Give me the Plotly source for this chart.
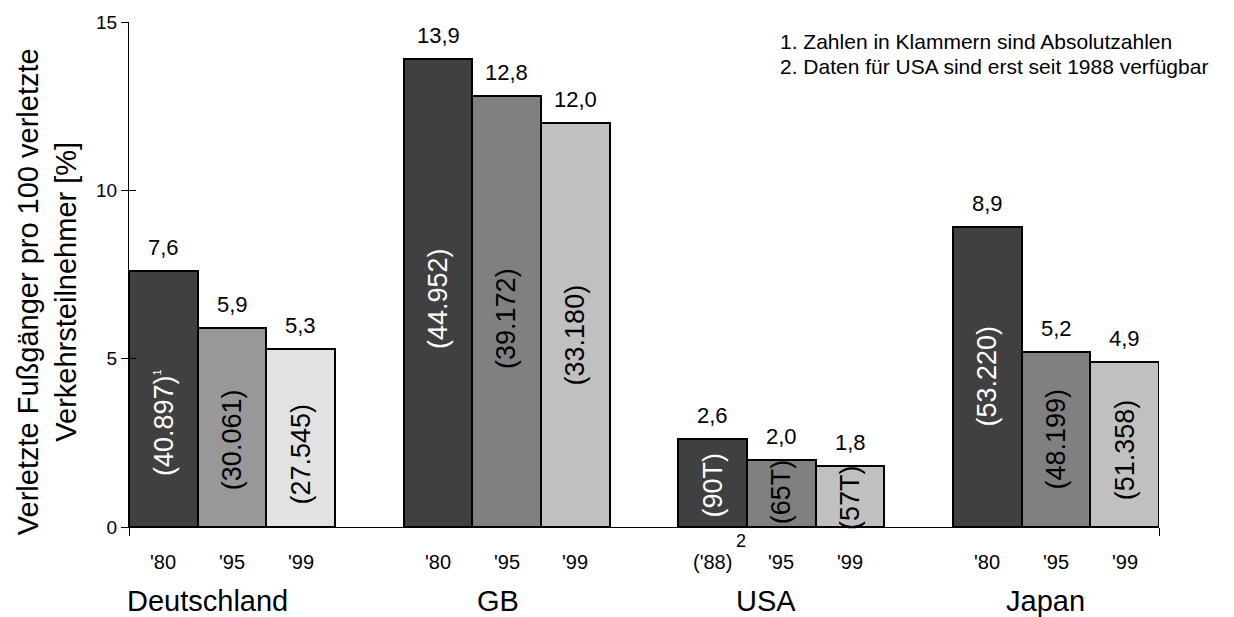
import plotly.graph_objects as go

# Data: injured pedestrians per 100 injured road users [%]
countries = ["Deutschland", "GB", "USA", "Japan"]
years = ["'80", "'95", "'99"]
year_labels = {
    "Deutschland": ["'80", "'95", "'99"],
    "GB": ["'80", "'95", "'99"],
    "USA": ["('88)", "'95", "'99"],
    "Japan": ["'80", "'95", "'99"],
}
share_de = [7.6, 5.9, 5.3]
share_gb = [13.9, 12.8, 12.0]
share_us = [2.6, 2.0, 1.8]
share_jp = [8.9, 5.2, 4.9]
absolute_de = ["(40.897)", "(30.061)", "(27.545)"]
absolute_gb = ["(44.952)", "(39.172)", "(33.180)"]
absolute_us = ["(90T)", "(65T)", "(57T)"]
absolute_jp = ["(53.220)", "(48.199)", "(51.358)"]
y_ticks = [0, 5, 10, 15]
footnotes = [
    "1. Zahlen in Klammern sind Absolutzahlen",
    "2. Daten für USA sind erst seit 1988 verfügbar",
]

shares = [share_de, share_gb, share_us, share_jp]
absolutes = [absolute_de, absolute_gb, absolute_us, absolute_jp]

# Styling / placement
FONT = "Liberation Sans, Arial, sans-serif"
W, H = 1234, 617
ML, MR, MT, MB = 129, 75, 22, 90
colors_de = ["#404040", "#989898", "#e2e2e2"]
colors_std = ["#404040", "#808080", "#c0c0c0"]
inner_text_color = ["white", "black", "black"]
# vertical centre (axis units) of the rotated absolute-count labels
inner_label_mid = [
    [3.1, 2.58, 2.17],
    [6.77, 6.2, 5.7],
    [1.25, 1.04, 0.86],
    [4.48, 2.6, 2.3],
]
# horizontal nudges of the country names (axis units)
country_nudge = [-0.35, -0.13, -0.23, -0.16]

xs, ys, cols = [], [], []
annotations = []
for g, country in enumerate(countries):
    palette = colors_de if country == "Deutschland" else colors_std
    for j in range(3):
        x = 4 * g + j + 0.5
        v = shares[g][j]
        xs.append(x)
        ys.append(v)
        cols.append(palette[j])
        # value label above the bar
        annotations.append(dict(
            x=x, y=v, xref="x", yref="y", text=f"{v:.1f}".replace(".", ","),
            showarrow=False, yanchor="bottom", yshift=9,
            font=dict(family=FONT, size=22, color="black")))
        # rotated absolute count inside the bar
        txt = absolutes[g][j]
        if g == 0 and j == 0:
            txt += "<sup><span style='font-size:11px'>1</span></sup>"
        annotations.append(dict(
            x=x, y=inner_label_mid[g][j], xref="x", yref="y", text=txt,
            textangle=-90, showarrow=False,
            font=dict(family=FONT, size=27, color=inner_text_color[j])))
        # year label under the bar
        annotations.append(dict(
            x=x, y=0, xref="x", yref="y", text=year_labels[country][j],
            showarrow=False, yanchor="middle", yshift=-35,
            font=dict(family=FONT, size=20, color="black")))
    # country name
    annotations.append(dict(
        x=4 * g + 1.5 + country_nudge[g], y=0, xref="x", yref="y", text=country,
        showarrow=False, yanchor="middle", yshift=-74,
        font=dict(family=FONT, size=29, color="black")))

# footnote marker next to the 1988 USA label
annotations.append(dict(
    x=8.91, y=0, xref="x", yref="y", text="2", showarrow=False,
    yanchor="middle", yshift=-14,
    font=dict(family=FONT, size=18, color="black")))

# footnotes, top right
pw = W - ML - MR
for k, note in enumerate(footnotes):
    annotations.append(dict(
        x=(778 - ML) / pw, y=1, xref="paper", yref="paper", text=note,
        xanchor="left", yanchor="middle", yshift=-19 - 25 * k,
        showarrow=False, font=dict(family=FONT, size=21, color="black")))

# y-axis title
annotations.append(dict(
    x=-(ML - 47) / pw, y=0.465, xref="paper", yref="paper",
    text="Verletzte Fußgänger pro 100 verletzte<br>Verkehrsteilnehmer [%]",
    textangle=-90, showarrow=False, xanchor="center", yanchor="middle",
    font=dict(family=FONT, size=29, color="black")))

fig = go.Figure()
fig.add_trace(go.Bar(
    x=xs, y=ys, width=1, marker=dict(color=cols, line=dict(color="black", width=2)),
    hoverinfo="skip", showlegend=False))
# invisible trace carrying the inner tick marks of the value axis
fig.add_trace(go.Scatter(x=[None], y=[None], yaxis="y2", showlegend=False,
                         hoverinfo="skip"))

fig.update_layout(
    width=W, height=H,
    margin=dict(l=ML, r=MR, t=MT, b=MB),
    paper_bgcolor="white", plot_bgcolor="white",
    bargap=0,
    xaxis=dict(range=[0, 15], showgrid=False, zeroline=False,
               showline=True, linecolor="black", linewidth=1,
               tickmode="array", tickvals=[0, 15], ticks="outside",
               ticklen=8, tickcolor="black", showticklabels=False),
    yaxis=dict(range=[0, 15], showgrid=False, zeroline=False,
               showline=True, linecolor="black", linewidth=1,
               tickmode="array", tickvals=y_ticks, ticks="outside",
               ticklen=7, tickcolor="black",
               tickfont=dict(family=FONT, size=19, color="black")),
    yaxis2=dict(range=[0, 15], overlaying="y", side="left", showgrid=False,
                zeroline=False, showline=False, tickmode="array",
                tickvals=y_ticks, ticks="inside", ticklen=7,
                tickcolor="black", showticklabels=False),
    annotations=annotations,
)

fig.write_html("out.html")
